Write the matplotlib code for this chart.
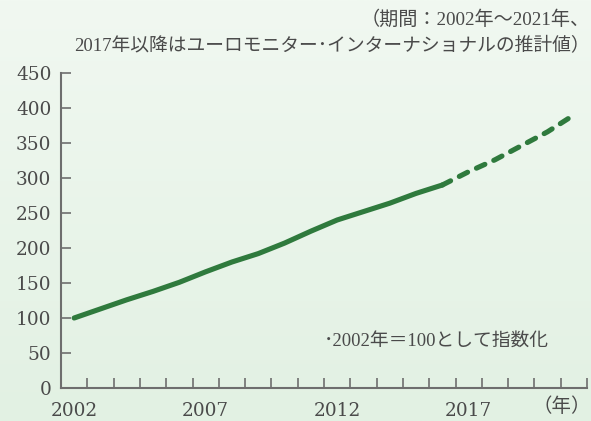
import numpy as np
import matplotlib
matplotlib.use("Agg")
import matplotlib.pyplot as plt
from matplotlib.patches import FancyBboxPatch

plt.rcParams["font.family"] = ["Liberation Serif", "Noto Sans CJK JP"]

# ============================================================
# Data (index, 2002 = 100; 2017 onward are estimates)
# ============================================================
years = list(range(2002, 2022))
index_values = [100, 113, 126, 138, 151, 166, 180, 192, 207, 224, 240,
                252, 264, 278, 290, 309, 326, 346, 366, 390]
actual_until = 2016
tick_years = [2002, 2007, 2012, 2017]
title_lines = ["（期間：2002年～2021年、",
               "2017年以降はユーロモニター･インターナショナルの推計値）"]
note = "･2002年＝100として指数化"
unit_label = "（年）"

line_color = "#2f7a3d"
text_color = "#4a4a4a"
axis_color = "#6e6e6e"

W, H = 591, 421
fig = plt.figure(figsize=(W / 100, H / 100), dpi=100)

# background gradient
bg = fig.add_axes([0, 0, 1, 1], zorder=-10)
grad = np.linspace(0, 1, 256).reshape(-1, 1)
cmap = matplotlib.colors.LinearSegmentedColormap.from_list("bg", ["#f1f8f1", "#e2f1e3"])
bg.imshow(grad, aspect="auto", cmap=cmap, extent=[0, 1, 0, 1], origin="upper")
bg.add_patch(FancyBboxPatch((15 / W, 1.0), 565 / W, 0.05,
                            boxstyle="round,pad=0,rounding_size=0.015",
                            transform=bg.transAxes, facecolor="#e3efe3",
                            edgecolor="none", clip_on=False))
bg.set_xlim(0, 1)
bg.set_ylim(0, 1)
bg.axis("off")

ax = fig.add_axes([61 / W, 33 / H, 526 / W, 315 / H])
ax.patch.set_alpha(0)

x = np.array(years)
y = np.array(index_values)
solid = x <= actual_until
dashed = x >= actual_until
ax.plot(x[solid], y[solid], color=line_color, lw=3.7,
        solid_capstyle="round", solid_joinstyle="round")
ax.plot(x[dashed], y[dashed], color=line_color, lw=3.7,
        linestyle=(0, (1.8, 1.9)), dash_capstyle="round")

ax.set_xlim(years[0] - 0.5, years[-1] + 0.5)
ax.set_ylim(0, 450)
ax.set_yticks(range(0, 451, 50))

ax.set_xticks(tick_years)
ax.set_xticks(np.arange(years[0] + 0.5, years[-1] + 1), minor=True)
ax.tick_params(axis="x", which="major", length=0, pad=10,
               labelsize=13.3, labelcolor=text_color,
               labelfontfamily="DejaVu Serif")
ax.tick_params(axis="x", which="minor", direction="in", length=7,
               width=1.2, color=axis_color)
ax.tick_params(axis="y", direction="in", length=7, width=1.2,
               color=axis_color, labelsize=13.3, labelcolor=text_color, pad=7,
               labelfontfamily="DejaVu Serif")

for side in ["top", "right"]:
    ax.spines[side].set_visible(False)
for side in ["left", "bottom"]:
    ax.spines[side].set_color(axis_color)
    ax.spines[side].set_linewidth(1.5)

ax.text(2020.55, -13, unit_label, ha="center", va="top", fontsize=14,
        color=text_color)
ax.text(263 / 526, 0.145, note, transform=ax.transAxes, ha="left", va="center",
        fontsize=13.5, color=text_color)

fig.text(1.0 - 1 / W, 1 - 25 / H, title_lines[0], ha="right", va="baseline",
         fontsize=13.8, color=text_color)
fig.text(1.0 - 1 / W, 1 - 50 / H, title_lines[1], ha="right", va="baseline",
         fontsize=13.5, color=text_color)

fig.savefig("out.png", dpi=100)
